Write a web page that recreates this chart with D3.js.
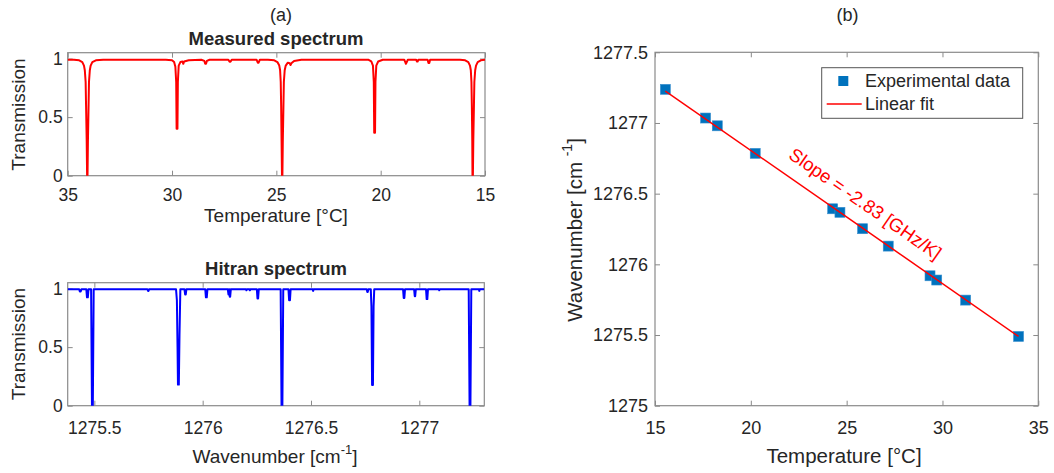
<!DOCTYPE html>
<html>
<head>
<meta charset="utf-8">
<script src="https://cdn.jsdelivr.net/npm/d3@7"></script>
<style>
  html, body { margin: 0; padding: 0; background: #fff; }
  svg { display: block; }
  text { font-family: "Liberation Sans", Arial, Helvetica, sans-serif; fill: #262626; }
</style>
</head>
<body>
<svg id="chart" width="1054" height="473"></svg>
<script>
// ---------------- DATA ----------------
// (a) top: measured spectrum, transmission vs temperature
const measuredTemp = [35.00,34.70,34.45,34.30,34.22,34.18,34.14,34.12,34.09,34.07,34.05,34.03,34.00,33.98,33.94,33.90,33.82,33.65,33.30,
  30.30,30.00,29.90,29.84,29.80,29.78,29.74,29.72,29.68,29.60,29.50,29.46,29.42,29.20,
  28.60,28.45,28.41,28.37,28.33,28.20,27.30,27.24,27.20,27.14,25.95,25.89,25.85,25.79,
  25.40,25.10,24.95,24.86,24.82,24.79,24.77,24.75,24.73,24.71,24.69,24.66,24.64,24.60,24.55,24.45,24.36,24.32,24.28,24.15,23.80,
  20.60,20.45,20.37,20.33,20.31,20.27,20.25,20.21,20.12,19.90,
  18.87,18.82,18.79,18.75,18.70,18.30,18.26,18.23,18.19,17.75,17.71,17.67,17.63,
  16.20,15.95,15.80,15.72,15.68,15.65,15.63,15.61,15.60,15.58,15.56,15.53,15.51,15.47,15.43,15.35,15.20,15.00];
const measuredTrans = [0.99,0.99,0.985,0.97,0.94,0.90,0.80,0.60,0.30,0.0,0.0,0.30,0.60,0.80,0.90,0.94,0.97,0.985,0.99,
  0.99,0.985,0.97,0.93,0.80,0.40,0.40,0.80,0.94,0.97,0.975,0.955,0.975,0.985,
  0.99,0.98,0.955,0.955,0.98,0.99,0.99,0.972,0.972,0.99,0.99,0.965,0.965,0.99,
  0.99,0.985,0.97,0.94,0.90,0.80,0.60,0.30,0.0,0.0,0.30,0.60,0.80,0.90,0.94,0.965,0.96,0.945,0.96,0.98,0.99,
  0.99,0.975,0.94,0.80,0.366,0.366,0.80,0.94,0.975,0.99,
  0.99,0.97,0.955,0.97,0.99,0.99,0.975,0.975,0.99,0.99,0.962,0.962,0.99,
  0.99,0.985,0.97,0.94,0.90,0.80,0.60,0.30,0.0,0.0,0.30,0.60,0.80,0.90,0.94,0.97,0.985,0.99];

// (a) bottom: Hitran spectrum, transmission vs wavenumber
const hitranWn = [1275.377,1275.430,1275.433,1275.437,1275.440,1275.463,1275.466,1275.470,1275.473,1275.485,1275.489,1275.493,1275.497,
  1275.745,1275.748,1275.750,1275.753,1275.877,1275.881,1275.884,1275.886,1275.890,1275.893,1275.897,1275.916,1275.919,1275.922,1275.925,
  1276.012,1276.015,1276.019,1276.022,1276.116,1276.119,1276.121,1276.123,1276.125,1276.127,1276.130,1276.200,1276.202,1276.204,1276.216,1276.218,1276.220,
  1276.250,1276.253,1276.256,1276.259,1276.360,1276.364,1276.368,1276.372,1276.396,1276.399,1276.403,1276.406,1276.508,1276.510,1276.512,
  1276.757,1276.760,1276.762,1276.765,1276.776,1276.779,1276.782,1276.786,1276.789,1276.792,
  1276.925,1276.928,1276.931,1276.934,1276.976,1276.979,1276.981,1276.984,1277.031,1277.034,1277.037,1277.040,1277.090,1277.092,1277.094,
  1277.228,1277.232,1277.236,1277.240,1277.275,1277.277,1277.279,1277.300];
const hitranTrans = [0.995,0.995,0.975,0.975,0.995,0.995,0.925,0.925,0.995,0.995,0.0,0.0,0.995,
  0.995,0.98,0.98,0.995,0.995,0.9,0.5,0.18,0.18,0.6,0.995,0.995,0.95,0.95,0.995,
  0.995,0.925,0.925,0.995,0.995,0.95,0.995,0.995,0.93,0.93,0.995,0.995,0.985,0.995,0.995,0.985,0.995,
  0.995,0.915,0.915,0.995,0.995,0.0,0.0,0.995,0.995,0.9,0.9,0.995,0.995,0.98,0.995,
  0.995,0.97,0.97,0.995,0.995,0.85,0.176,0.176,0.85,0.995,
  0.995,0.92,0.92,0.995,0.995,0.935,0.935,0.995,0.995,0.91,0.91,0.995,0.995,0.985,0.995,
  0.995,0.0,0.0,0.995,0.995,0.98,0.995,0.995];

// (b): line position vs temperature
const expTemp = [15.54,17.64,18.25,20.23,24.27,24.65,25.83,27.17,29.35,29.70,31.21,33.97];
const expWn   = [1277.238,1277.035,1276.980,1276.785,1276.393,1276.368,1276.252,1276.129,1275.919,1275.889,1275.747,1275.490];
const fitTemp = [15.54,33.97];
const fitWn   = [1277.226,1275.490];
const slopeLabel = "Slope = -2.83 [GHz/K]";
const slopeLabelPos = [25.98, 1276.43];

// tick labels
const tempTicksA = [35,30,25,20,15];
const transTicks = [0,0.5,1];
const wnTicksA = [1275.5,1276,1276.5,1277];
const tempTicksB = [15,20,25,30,35];
const wnTicksB = [1275,1275.5,1276,1276.5,1277,1277.5];

// ---------------- DRAW ----------------
const svg = d3.select("#chart");
svg.append("rect").attr("width",1054).attr("height",473).attr("fill","#fff");
const TICK = 5, AXC = "#8a8a8a", TXT = "#262626";
const FA = 17.5, LA = 19, FB = 18, LB = 20.5;

function drawFrame(g, x, y, xTicks, yTicks, fs, xpad, ypad, id) {
  const [x0,x1] = x.range(), [y0,y1] = y.range();
  const left = Math.min(x0,x1), right = Math.max(x0,x1), top = Math.min(y0,y1), bottom = Math.max(y0,y1);
  g.append("clipPath").attr("id", id).append("rect")
    .attr("x", left).attr("y", top).attr("width", right-left).attr("height", bottom-top);
  const style = sel => {
    sel.select(".domain").remove();
    sel.selectAll(".tick line").attr("stroke", AXC).attr("stroke-width", 1);
    sel.selectAll(".tick text").attr("fill", TXT).style("font-size", fs+"px")
       .style("font-family", '"Liberation Sans", Arial, sans-serif');
  };
  const fmt = d => String(d);
  g.append("g").attr("transform",`translate(0,${bottom})`)
    .call(d3.axisBottom(x).tickValues(xTicks).tickFormat(fmt).tickSizeInner(-TICK).tickSizeOuter(0).tickPadding(xpad))
    .call(style);
  g.append("g").attr("transform",`translate(0,${top})`)
    .call(d3.axisTop(x).tickValues(xTicks).tickFormat("").tickSizeInner(-TICK).tickSizeOuter(0))
    .call(style);
  g.append("g").attr("transform",`translate(${left},0)`)
    .call(d3.axisLeft(y).tickValues(yTicks).tickFormat(fmt).tickSizeInner(-TICK).tickSizeOuter(0).tickPadding(ypad))
    .call(style);
  g.append("g").attr("transform",`translate(${right},0)`)
    .call(d3.axisRight(y).tickValues(yTicks).tickFormat("").tickSizeInner(-TICK).tickSizeOuter(0))
    .call(style);
  g.append("rect").attr("x", left).attr("y", top).attr("width", right-left).attr("height", bottom-top)
    .attr("fill","none").attr("stroke", AXC).attr("stroke-width", 1.2);
}

// ---- (a) top ----
const gA = svg.append("g");
const xA = d3.scaleLinear().domain([35,15]).range([67.7,485]);
const yA = d3.scaleLinear().domain([0,1.05]).range([175.7,52.7]);
drawFrame(gA, xA, yA, tempTicksA, transTicks, FA, 13, 5, "clipA");
gA.append("path")
  .datum(measuredTemp.map((t,i)=>[t, measuredTrans[i]]))
  .attr("clip-path","url(#clipA)")
  .attr("fill","none").attr("stroke","#ff0000").attr("stroke-width",2).attr("stroke-linejoin","round")
  .attr("d", d3.line().x(d=>xA(d[0])).y(d=>yA(d[1])));

// ---- (a) bottom ----
const gH = svg.append("g");
const xH = d3.scaleLinear().domain([1275.377,1277.3]).range([67.7,484.3]);
const yH = d3.scaleLinear().domain([0,1.05]).range([405.7,282.7]);
drawFrame(gH, xH, yH, wnTicksA, transTicks, FA, 16, 5, "clipH");
gH.append("path")
  .datum(hitranWn.map((w,i)=>[w, hitranTrans[i]]))
  .attr("clip-path","url(#clipH)")
  .attr("fill","none").attr("stroke","#0000ff").attr("stroke-width",2).attr("stroke-linejoin","round")
  .attr("d", d3.line().x(d=>xH(d[0])).y(d=>yH(d[1])));

// ---- (b) ----
const gB = svg.append("g");
const xB = d3.scaleLinear().domain([15,35]).range([655,1038.3]);
const yB = d3.scaleLinear().domain([1275,1277.5]).range([405.7,52.3]);
drawFrame(gB, xB, yB, tempTicksB, wnTicksB, FB, 16, 7, "clipB");
const MS = 10;
gB.selectAll("rect.pt").data(expTemp.map((t,i)=>[t, expWn[i]])).enter().append("rect")
  .attr("class","pt")
  .attr("x", d=>xB(d[0])-MS/2).attr("y", d=>yB(d[1])-MS/2)
  .attr("width", MS).attr("height", MS)
  .attr("fill","#0072BD").attr("stroke","#3a8fcf").attr("stroke-width",0.6);
gB.append("path")
  .datum(fitTemp.map((t,i)=>[t, fitWn[i]]))
  .attr("fill","none").attr("stroke","#ff0000").attr("stroke-width",1.5)
  .attr("d", d3.line().x(d=>xB(d[0])).y(d=>yB(d[1])));
// slope annotation
const ang = Math.atan2(yB(fitWn[1])-yB(fitWn[0]), xB(fitTemp[1])-xB(fitTemp[0])) * 180/Math.PI;
gB.append("text")
  .attr("transform", `translate(${xB(slopeLabelPos[0])},${yB(slopeLabelPos[1])}) rotate(${ang})`)
  .attr("text-anchor","middle").attr("dominant-baseline","central")
  .style("font-size","18.5px").style("fill","#ff0000")
  .text(slopeLabel);

// legend
const lg = gB.append("g");
lg.append("rect").attr("x",821.7).attr("y",67.7).attr("width",201).attr("height",50.6)
  .attr("fill","#fff").attr("stroke","#555").attr("stroke-width",1);
lg.append("rect").attr("x",843.3-MS/2).attr("y",81-MS/2).attr("width",MS).attr("height",MS).attr("fill","#0072BD");
lg.append("line").attr("x1",826.7).attr("x2",861.7).attr("y1",104).attr("y2",104)
  .attr("stroke","#ff0000").attr("stroke-width",1.5);
lg.append("text").attr("x",865).attr("y",81).attr("dominant-baseline","central")
  .style("font-size",FB+"px").text("Experimental data");
lg.append("text").attr("x",865).attr("y",104).attr("dominant-baseline","central")
  .style("font-size",FB+"px").text("Linear fit");

// ---- titles and labels ----
function label(x, y, txt, size, opts={}) {
  const t = svg.append("text").attr("x", x).attr("y", y)
    .attr("text-anchor","middle").attr("dominant-baseline","central")
    .style("font-size", size+"px");
  if (opts.bold) t.style("font-weight","bold");
  if (opts.rotate) t.attr("transform", `rotate(-90,${x},${y})`);
  return t.text(txt);
}
label(281, 15, "(a)", 18);
label(847.5, 15, "(b)", 18);
label(276, 38, "Measured spectrum", 18.5, {bold:true});
label(276, 268, "Hitran spectrum", 18.5, {bold:true});
label(276, 215.5, "Temperature [°C]", LA);
label(18.5, 114.5, "Transmission", LA, {rotate:true});
label(18.5, 344, "Transmission", LA, {rotate:true});
label(844, 455, "Temperature [°C]", LB);

// Wavenumber with superscript (bottom left)
const wl = svg.append("text").attr("x",275).attr("y",456).attr("text-anchor","middle")
  .attr("dominant-baseline","central").style("font-size",LA+"px");
wl.append("tspan").text("Wavenumber [cm");
wl.append("tspan").attr("dy",-7).style("font-size","13px").text("-1");
wl.append("tspan").attr("dy",7).text("]");

// Wavenumber with superscript (right, rotated)
const wr = svg.append("text").attr("x",574).attr("y",230).attr("text-anchor","middle")
  .attr("dominant-baseline","central").style("font-size",LB+"px")
  .attr("transform","rotate(-90,574,230)");
wr.append("tspan").text("Wavenumber [cm ");
wr.append("tspan").attr("dy",-7).style("font-size","14px").text("-1");
wr.append("tspan").attr("dy",7).text("]");
</script>
</body>
</html>
